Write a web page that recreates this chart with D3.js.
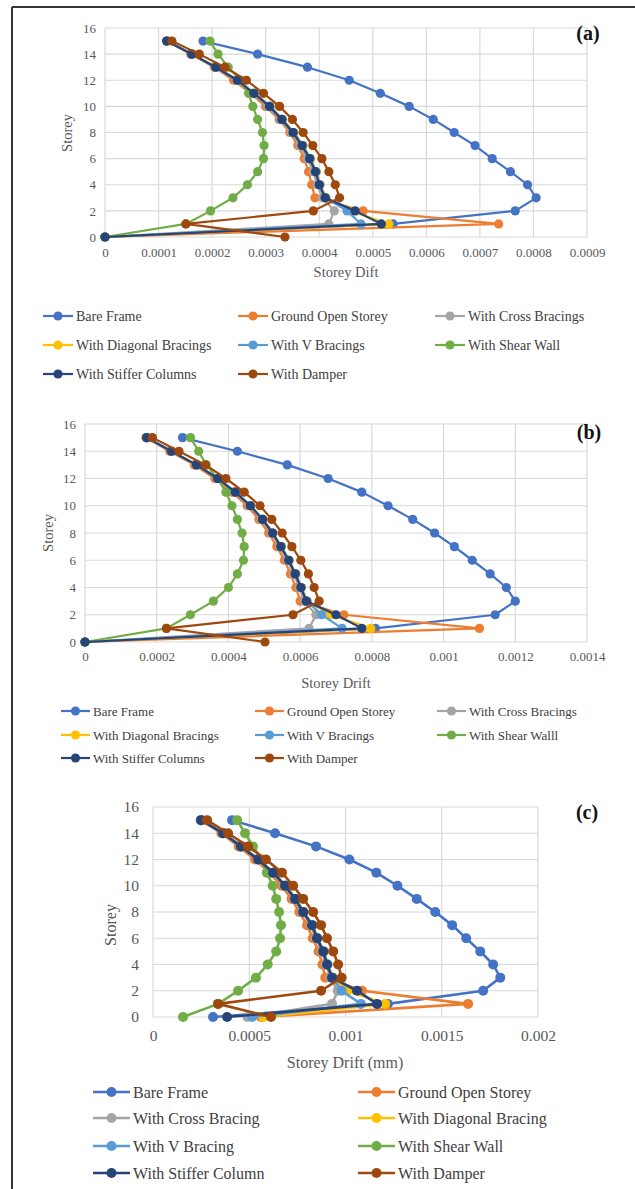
<!DOCTYPE html>
<html><head><meta charset="utf-8">
<script src="https://cdn.jsdelivr.net/npm/d3@7"></script>
<style>body{margin:0;background:#fff} svg{display:block} svg text{font-family:"Liberation Serif","Times New Roman","DejaVu Serif",serif;}</style>
</head><body>
<svg id="c" width="635" height="1189"></svg>
<script>
// ---------- DATA ----------
const storeys = [0,1,2,3,4,5,6,7,8,9,10,11,12,13,14,15];
const yTicks = [0,2,4,6,8,10,12,14,16];
const xTicksA = [0,0.0001,0.0002,0.0003,0.0004,0.0005,0.0006,0.0007,0.0008,0.0009];
const xTicksB = [0,0.0002,0.0004,0.0006,0.0008,0.001,0.0012,0.0014];
const xTicksC = [0,0.0005,0.001,0.0015,0.002];
const namesA = ["Bare Frame","Ground Open Storey","With Cross Bracings","With Diagonal Bracings","With V Bracings","With Shear Wall","With Stiffer Columns","With Damper"];
const namesB = ["Bare Frame","Ground Open Storey","With Cross Bracings","With Diagonal Bracings","With V Bracings","With Shear Walll","With Stiffer Columns","With Damper"];
const namesC = ["Bare Frame","Ground Open Storey","With Cross Bracing","With Diagonal Bracing","With V Bracing","With Shear Wall","With Stiffer Column","With Damper"];
const seriesColors = ["#4472C4","#ED7D31","#A5A5A5","#FFC000","#5B9BD5","#70AD47","#264478","#9E480E"];

// Panel (a)
const bareA     = [0,0.000538,0.000766,0.000805,0.000789,0.000757,0.000723,0.000691,0.000652,0.000613,0.000568,0.000514,0.000456,0.000378,0.000285,0.000183];
const groundA   = [0,0.000735,0.000482,0.000392,0.000386,0.00038,0.000372,0.00036,0.000345,0.000325,0.0003,0.000272,0.00024,0.000204,0.00016,0.000116];
const crossA    = [0,0.000418,0.000428,0.000406,0.000396,0.000389,0.000378,0.000364,0.000348,0.000327,0.000304,0.000276,0.000245,0.000206,0.000161,0.000115];
const diagonalA = [0,0.00053,0.000458,0.000413,0.000402,0.000395,0.000384,0.00037,0.000353,0.000332,0.000309,0.00028,0.000248,0.000208,0.000163,0.000116];
const vA        = [0,0.000478,0.000452,0.000412,0.000401,0.000394,0.000383,0.000369,0.000352,0.000331,0.000308,0.000279,0.000248,0.000207,0.000163,0.000116];
const shearA    = [0,0.000151,0.000197,0.000239,0.000266,0.000285,0.000296,0.000297,0.000294,0.000285,0.000276,0.000268,0.000254,0.00023,0.000211,0.000196];
const stifferA  = [0,0.000516,0.000467,0.000411,0.0004,0.000393,0.000382,0.000368,0.000351,0.00033,0.000307,0.000278,0.000247,0.000207,0.000162,0.000115];
const damperA   = [0.000336,0.000151,0.000389,0.000438,0.00043,0.000418,0.000405,0.000388,0.00037,0.00035,0.000326,0.000296,0.000264,0.000224,0.000176,0.000125];

// Panel (b)
const bareB     = [0,0.00081,0.001144,0.0012,0.001175,0.00113,0.00108,0.00103,0.000975,0.000914,0.000845,0.000772,0.000678,0.000564,0.000425,0.000272];
const groundB   = [0,0.0011,0.000722,0.0006,0.000588,0.000573,0.000556,0.000535,0.000512,0.000485,0.000452,0.00041,0.000362,0.000305,0.000236,0.00017];
const crossB    = [0,0.000625,0.000644,0.000612,0.000598,0.000582,0.000564,0.000543,0.00052,0.000492,0.000458,0.000417,0.000368,0.00031,0.00024,0.000171];
const diagonalB = [0,0.000797,0.000685,0.00062,0.000604,0.000588,0.00057,0.000548,0.000525,0.000497,0.000463,0.00042,0.000372,0.000312,0.000242,0.000173];
const vB        = [0,0.000717,0.00066,0.000619,0.000603,0.000587,0.000569,0.000547,0.000524,0.000496,0.000462,0.00042,0.000371,0.000312,0.000242,0.000173];
const shearB    = [0,0.000227,0.000294,0.000358,0.0004,0.000425,0.000442,0.000444,0.000438,0.000425,0.00041,0.000393,0.00037,0.000338,0.000317,0.000294];
const stifferB  = [0,0.000772,0.0007,0.000617,0.000602,0.000586,0.000568,0.000546,0.000523,0.000495,0.000461,0.000419,0.00037,0.000311,0.000241,0.000172];
const damperB   = [0.000502,0.000227,0.00058,0.000653,0.000639,0.000623,0.000602,0.000577,0.00055,0.000521,0.000488,0.000444,0.000393,0.000336,0.000262,0.000188];

// Panel (c)
const bareC     = [0.000312,0.00122,0.001715,0.001804,0.001767,0.0017,0.001627,0.001554,0.001466,0.00137,0.00127,0.00116,0.00102,0.000847,0.000634,0.000411];
const groundC   = [0.00056,0.001637,0.001086,0.000895,0.00088,0.00086,0.00083,0.0008,0.00076,0.00072,0.000668,0.000605,0.00053,0.000445,0.000355,0.000248];
const crossC    = [0.00049,0.00093,0.00096,0.000922,0.000898,0.000878,0.000847,0.00082,0.000776,0.000734,0.000682,0.00062,0.000543,0.000455,0.000362,0.000249];
const diagonalC = [0.000572,0.001206,0.00101,0.000935,0.000908,0.000888,0.000856,0.00083,0.000784,0.000741,0.000689,0.000627,0.000549,0.000459,0.000366,0.000251];
const vC        = [0.000515,0.00108,0.00098,0.000933,0.000906,0.000886,0.000854,0.000828,0.000782,0.00074,0.000688,0.000626,0.000548,0.000458,0.000365,0.000251];
const shearC    = [0.000156,0.000338,0.000442,0.000535,0.000596,0.00064,0.00066,0.000665,0.000655,0.00064,0.000622,0.000591,0.000565,0.000519,0.000478,0.000437];
const stifferC  = [0.000385,0.001164,0.00106,0.00093,0.000904,0.000884,0.000852,0.000826,0.00078,0.000738,0.000686,0.000624,0.000546,0.000457,0.000364,0.00025];
const damperC   = [0.000613,0.000338,0.000873,0.00098,0.000962,0.000936,0.000904,0.000873,0.000832,0.00078,0.000728,0.00067,0.000587,0.000494,0.00039,0.000281];

// ---------- LAYOUT ----------
const panels = [
  {series:[bareA,groundA,crossA,diagonalA,vA,shearA,stifferA,damperA], names:namesA, xTicks:xTicksA,
   x0:105,x1:587,yB:237,yT:28, tickFont:13, xPad:11, yPad:9, titleFont:14.5, yTitleX:67, yTitleY:133,
   xTitle:"Storey Dift", xTitleX:346, xTitleY:277, label:"(a)", labelX:588, labelY:40,
   cols:3, legX:[43,238,435], legY:[316,345,374], legLine:30, legFont:14, r:4.6, lw:2.2},
  {series:[bareB,groundB,crossB,diagonalB,vB,shearB,stifferB,damperB], names:namesB, xTicks:xTicksB,
   x0:85,x1:587,yB:642,yT:424, tickFont:13, xPad:9.5, yPad:9, titleFont:14.5, yTitleX:48, yTitleY:533,
   xTitle:"Storey Drift", xTitleX:336, xTitleY:688, label:"(b)", labelX:589, labelY:439,
   cols:3, legX:[61,255,437], legY:[711,735,758], legLine:29, legFont:13, r:4.6, lw:2.2},
  {series:[bareC,groundC,crossC,diagonalC,vC,shearC,stifferC,damperC], names:namesC, xTicks:xTicksC,
   x0:153,x1:538,yB:1017,yT:807, tickFont:15.5, xPad:13, yPad:14, titleFont:16, yTitleX:110, yTitleY:925,
   xTitle:"Storey Drift (mm)", xTitleX:345, xTitleY:1068, label:"(c)", labelX:587, labelY:819,
   cols:2, legX:[93,358], legY:[1092,1118,1146,1173], legLine:37, legFont:16, r:5, lw:2.6}
];

const svg = d3.select("#c");
const fmt = d => d === 0 ? "0" : String(+d.toFixed(6));

// frame
svg.append("line").attr("x1",12).attr("y1",7).attr("x2",12).attr("y2",1189).attr("stroke","#333").attr("stroke-width",2);
svg.append("line").attr("x1",12).attr("y1",7).attr("x2",635).attr("y2",7).attr("stroke","#333").attr("stroke-width",2);

panels.forEach(p => {
  const xMax = p.xTicks[p.xTicks.length-1];
  const x = d3.scaleLinear().domain([0,xMax]).range([p.x0,p.x1]);
  const y = d3.scaleLinear().domain([0,16]).range([p.yB,p.yT]);
  const g = svg.append("g");

  // grid
  g.append("g").selectAll("line").data(yTicks).join("line")
    .attr("x1",p.x0).attr("x2",p.x1).attr("y1",d=>y(d)).attr("y2",d=>y(d))
    .attr("stroke","#d9d9d9").attr("stroke-width",1.2);
  g.append("g").selectAll("line").data(p.xTicks).join("line")
    .attr("y1",p.yT).attr("y2",p.yB).attr("x1",d=>x(d)).attr("x2",d=>x(d))
    .attr("stroke","#d9d9d9").attr("stroke-width",1.2);

  // axes (labels only)
  const xa = g.append("g").attr("transform",`translate(0,${p.yB})`)
    .call(d3.axisBottom(x).tickValues(p.xTicks).tickFormat(fmt).tickSize(0).tickPadding(p.xPad));
  const ya = g.append("g").attr("transform",`translate(${p.x0},0)`)
    .call(d3.axisLeft(y).tickValues(yTicks).tickFormat(d3.format("d")).tickSize(0).tickPadding(p.yPad));
  [xa,ya].forEach(a => {
    a.select(".domain").remove();
    a.attr("font-family",null);
    a.selectAll("text").attr("font-size",p.tickFont).attr("fill","#595959");
  });

  // titles
  g.append("text").attr("transform",`translate(${p.yTitleX},${p.yTitleY}) rotate(-90)`)
    .attr("text-anchor","middle").attr("dy","0.35em")
    .attr("font-size",p.titleFont).attr("fill","#595959").text("Storey");
  g.append("text").attr("x",p.xTitleX).attr("y",p.xTitleY).attr("text-anchor","middle")
    .attr("font-size",p.titleFont).attr("fill","#595959").text(p.xTitle);
  g.append("text").attr("x",p.labelX).attr("y",p.labelY).attr("text-anchor","middle")
    .attr("font-size",20).attr("font-weight","bold").attr("fill","#111").text(p.label);

  // series
  const line = d3.line().x(d=>x(d[0])).y(d=>y(d[1]));
  p.series.forEach((vals,i) => {
    const pts = vals.map((v,k)=>[v,storeys[k]]);
    const sg = g.append("g");
    sg.append("path").datum(pts).attr("d",line).attr("fill","none")
      .attr("stroke",seriesColors[i]).attr("stroke-width",p.lw).attr("stroke-linejoin","round");
    sg.selectAll("circle").data(pts).join("circle")
      .attr("cx",d=>x(d[0])).attr("cy",d=>y(d[1])).attr("r",p.r).attr("fill",seriesColors[i]);
  });

  // legend
  p.names.forEach((n,i) => {
    const cx = p.legX[i % p.cols], cy = p.legY[Math.floor(i / p.cols)];
    const lg = g.append("g");
    lg.append("line").attr("x1",cx).attr("x2",cx+p.legLine).attr("y1",cy).attr("y2",cy)
      .attr("stroke",seriesColors[i]).attr("stroke-width",p.lw);
    lg.append("circle").attr("cx",cx+p.legLine/2).attr("cy",cy).attr("r",p.r).attr("fill",seriesColors[i]);
    lg.append("text").attr("x",cx+p.legLine+3).attr("y",cy).attr("dy","0.35em")
      .attr("font-size",p.legFont).attr("fill","#404040").text(n);
  });
});
</script>
</body></html>
